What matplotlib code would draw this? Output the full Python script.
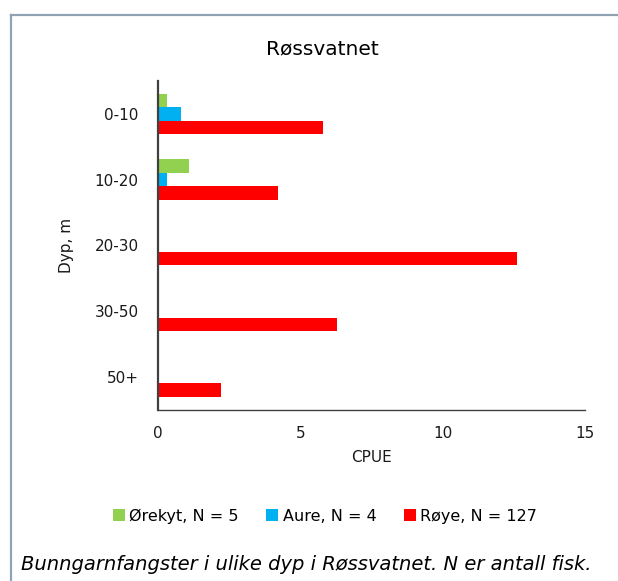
import numpy as np
import matplotlib
matplotlib.use("Agg")
import matplotlib.pyplot as plt
from matplotlib.patches import Patch
from matplotlib.lines import Line2D

plt.rcParams['font.family'] = ['DejaVu Sans']

# depth categories (top to bottom) and CPUE per species
dybder = ['0-10', '10-20', '20-30', '30-50', '50+']
orekyt = [0.3, 1.1, 0, 0, 0]
aure = [0.8, 0.3, 0, 0, 0]
roye = [5.8, 4.2, 12.6, 6.3, 2.2]

serier = ['Ørekyt, N = 5', 'Aure, N = 4', 'Røye, N = 127']
farger = ['#92D050', '#00B0F0', '#FF0000']

W, H = 618, 581
fig = plt.figure(figsize=(W/100, H/100), dpi=100)
ax = fig.add_axes([158/W, 1-409.5/H, 427/W, 328.5/H])

y = np.arange(len(dybder))
h = 0.205
for i, (vals, c) in enumerate(zip([orekyt, aure, roye], farger)):
    ax.barh(y + (i-1)*h, vals, height=h, color=c, edgecolor='none')

ax.set_xlim(0, 15)
ax.set_ylim(len(dybder)-0.5, -0.5)
ax.set_xticks([0, 5, 10, 15])
ax.set_yticks(y)
ax.set_yticklabels(dybder)
ax.tick_params(axis='both', length=0, labelsize=11, colors='#1a1a1a')
ax.tick_params(axis='x', pad=12)
ax.tick_params(axis='y', pad=14)
for s in ['top', 'right']:
    ax.spines[s].set_visible(False)
ax.spines['left'].set_color('#404040')
ax.spines['left'].set_linewidth(1.6)
ax.spines['bottom'].set_color('#404040')
ax.spines['bottom'].set_linewidth(1.0)

fig.text(371/W, 1-458/H, 'CPUE', ha='center', va='center', fontsize=11, color='#1a1a1a')
fig.text(67/W, 1-245/H, 'Dyp, m', rotation=90, ha='center', va='center', fontsize=11,
         color='#1a1a1a')

fig.text(322/W, 1-49/H, 'Røssvatnet', ha='center', va='center', fontsize=14.5)

handles = [Patch(facecolor=c, edgecolor='none') for c in farger]
fig.legend(handles, serier, loc='center', bbox_to_anchor=(325/W, 1-516/H), ncol=3,
           frameon=False, fontsize=11.5, handlelength=0.75, handleheight=0.75,
           handletextpad=0.3, columnspacing=1.7)

fig.text(21/W, 1-565/H, 'Bunngarnfangster i ulike dyp i Røssvatnet. N er antall fisk.',
         ha='left', va='center', fontsize=14, style='italic')

# frame around the figure (only top and left visible)
fig.add_artist(Line2D([11/W, 1.0], [1-15/H]*2, color='#8FA3B5', lw=1.6))
fig.add_artist(Line2D([11/W]*2, [0, 1-15/H], color='#8FA3B5', lw=1.6))

fig.savefig('out.png', dpi=100)
